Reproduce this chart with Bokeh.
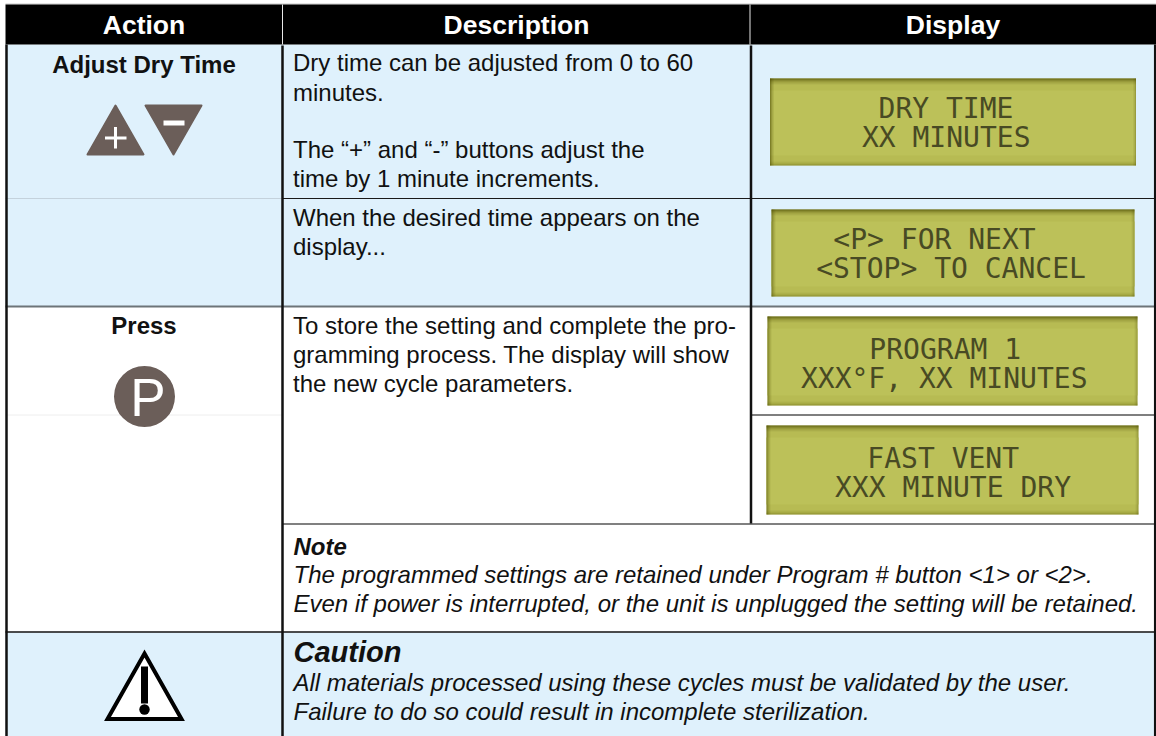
from bokeh.plotting import figure
from bokeh.models import Range1d
from bokeh.core.properties import value
from bokeh.embed import file_html
from bokeh.resources import INLINE

# ---- content ----
headers = ["Action", "Description", "Display"]
actions = ["Adjust Dry Time", "Press"]
desc_lines = ["Dry time can be adjusted from 0 to 60", "minutes.",
              "The \u201c+\u201d and \u201c-\u201d buttons adjust the", "time by 1 minute increments.",
              "When the desired time appears on the", "display...",
              "To store the setting and complete the pro-", "gramming process. The display will show", "the new cycle parameters."]
note_title = "Note"
note_lines = ["The programmed settings are retained under Program # button <1> or <2>.",
              "Even if power is interrupted, or the unit is unplugged the setting will be retained."]
caution_title = "Caution"
caution_lines = ["All materials processed using these cycles must be validated by the user.",
                 "Failure to do so could result in incomplete sterilization."]
lcd_lines = ["DRY TIME", "XX MINUTES", "<P> FOR NEXT", "<STOP> TO CANCEL",
             "PROGRAM 1", "XXX\u00b0F, XX MINUTES", "FAST VENT", "XXX MINUTE DRY"]

# ---- layout ----
W, H = 1156, 736
FONT = value("Liberation Sans")
X1, X2, X3, X4 = 5, 282, 750.5, 1155
BLUE = "#dff1fc"
BROWN = "#6b5e59"
BODY = 24

p = figure(width=W, height=H, x_range=Range1d(0, W), y_range=Range1d(H, 0),
           output_backend="svg", toolbar_location=None, min_border=0,
           margin=(0, 0, 0, 0), background_fill_color="white", border_fill_color="white",
           outline_line_color=None)
p.axis.visible = False
p.grid.visible = False

def rect(l, t, r, b, color, **kw):
    p.quad(left=[l], right=[r], top=[t], bottom=[b], fill_color=color, line_color=None, **kw)

def line(x0, y0, x1, y1, color, w):
    p.line([x0, x1], [y0, y1], line_color=color, line_width=w)

def text(x, y, s, size, align="left", style="normal", color="#111111", font=FONT):
    p.text([x], [y - 0.36 * size], text=[s], text_font=font, text_font_size=f"{size}px", text_font_style=style,
           text_align=align, text_baseline="alphabetic", text_color=color)

# backgrounds
rect(X1, 44, X4, 306, BLUE)
rect(X1, 632, X4, H, BLUE)

# header
rect(5, 3, W, 4, "#c8c8c8")
rect(5, 4, W, 44, "#000000")
line(X2, 4, X2, 44, "#e8e8e8", 1)
line(X3 - 1, 4, X3 - 1, 44, "#e8e8e8", 1)
text(143.5, 34.5, headers[0], 26.5, "center", "bold", "white")
text(516, 34.5, headers[1], 26.5, "center", "bold", "white")
text(952.5, 34.5, headers[2], 26.5, "center", "bold", "white")

# rules
line(X2, 198, X4, 198, "#1a1a1a", 1)
line(X1, 198, X2, 198, "#c4d2dc", 1)
line(X1, 306, X4, 306, "#6d7478", 2)
line(X3, 414.5, X4, 414.5, "#555555", 1.5)
line(X1, 414.5, X2, 414.5, "#eeeeee", 1)
line(X2, 523.5, X4, 523.5, "#808080", 2)
line(X1, 631.5, X4, 631.5, "#111111", 1.5)
line(6, 44, 6, H, "#111111", 2.5)
line(X2, 45, X2, H, "#111111", 2.5)
line(X3, 45, X3, 523, "#111111", 2.5)
line(1154.7, 44, 1154.7, H, "#111111", 2.5)

# action column
text(143.5, 72.5, actions[0], BODY, "center", "bold")
text(143.5, 334, actions[1], BODY, "center", "bold")

# description column
desc_y = [71, 101, 158, 187, 226, 255, 334, 363, 392]
for y, s in zip(desc_y, desc_lines):
    text(292.5, y, s, BODY)

text(293, 555, note_title, BODY, style="bold italic")
text(293, 583, note_lines[0], BODY, style="italic")
text(293, 612, note_lines[1], BODY, style="italic")
text(293, 662, caution_title, 29, style="bold italic")
text(293, 691, caution_lines[0], BODY, style="italic")
text(293, 720, caution_lines[1], BODY, style="italic")

# icons
p.patch([115, 143, 87], [105, 154, 154], fill_color=BROWN, line_color=BROWN, line_width=2, line_join="round")
p.patch([145, 201, 173], [105, 105, 154], fill_color=BROWN, line_color=BROWN, line_width=2, line_join="round")
rect(104.5, 136, 126, 139, "white")
rect(113.5, 126.5, 116.5, 148, "white")
rect(163, 120, 184, 125, "white")
p.circle(x=[144], y=[396], radius=30.5, fill_color=BROWN, line_color=None)
text(147.5, 416, "P", 53, "center", "normal", "white")

# caution icon
p.patch([144, 181, 107], [653, 718.5, 718.5], fill_color="white", line_color="#000000", line_width=4, line_join="miter")
rect(140.5, 666, 147.5, 703, "#000000")
p.circle(x=[144], y=[709], radius=5.2, fill_color="#000000", line_color=None)

# LCD panels
def lcd(l, t, r, b):
    rect(l, t, r, b, "#b7bb53")
    rect(l, t + 12, r, b - 10, "#bcc159")
    for i, a in enumerate([0.8, 0.55, 0.38, 0.24, 0.14, 0.07]):
        rect(l, t + i, r, t + i + 1, "#4a4a00", fill_alpha=a)
    for i, a in enumerate([0.5, 0.3, 0.15, 0.07]):
        rect(l, b - i - 1, r, b - i, "#6a6a10", fill_alpha=a)
    for i, a in enumerate([0.55, 0.35, 0.2, 0.1]):
        rect(l + i, t, l + i + 1, b, "#4a4a00", fill_alpha=a)
    for i, a in enumerate([0.3, 0.15, 0.07]):
        rect(r - i - 1, t, r - i, b, "#4a4a00", fill_alpha=a)

lcd(769.5, 78, 1135.5, 165)
lcd(771, 209, 1134, 296)
lcd(767, 316, 1137, 405)
lcd(766, 425, 1138, 514)

MONO = value("DejaVu Sans Mono")
lcd_x = [945.5, 945.7, 934, 950.5, 944.7, 943.7, 942.7, 952.5]
lcd_y = [118, 147, 249, 278, 359, 388, 468, 497]
for x, y, s in zip(lcd_x, lcd_y, lcd_lines):
    text(x, y, s, 28, "center", "normal", "#484a24", MONO)

open("out.html", "w").write(file_html(p, INLINE))
